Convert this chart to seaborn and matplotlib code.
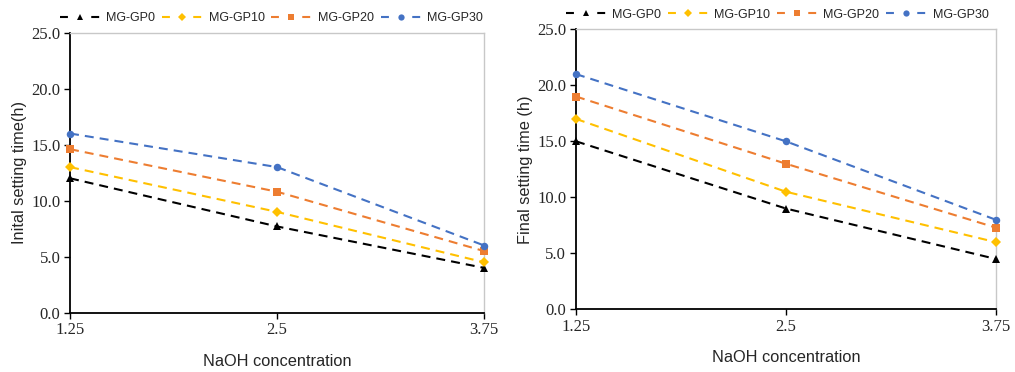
import matplotlib
matplotlib.use("Agg")
import matplotlib.pyplot as plt
import seaborn as sns
import pandas as pd
from matplotlib.ticker import FormatStrFormatter

sns.set_style("white")

concentration = [1.25, 2.5, 3.75]
series_names = ["MG-GP0", "MG-GP10", "MG-GP20", "MG-GP30"]
initial_gp0 = [12.0, 7.7, 4.0]
initial_gp10 = [13.0, 9.0, 4.5]
initial_gp20 = [14.6, 10.8, 5.5]
initial_gp30 = [16.0, 13.0, 6.0]
final_gp0 = [15.0, 9.0, 4.5]
final_gp10 = [17.0, 10.5, 6.0]
final_gp20 = [19.0, 13.0, 7.3]
final_gp30 = [21.0, 15.0, 8.0]
x_tick_labels = ["1.25", "2.5", "3.75"]

colors = {"MG-GP0": "#000000", "MG-GP10": "#FFC000", "MG-GP20": "#ED7D31", "MG-GP30": "#4472C4"}
markers = {"MG-GP0": "^", "MG-GP10": "D", "MG-GP20": "s", "MG-GP30": "o"}
msizes = {"MG-GP0": 6.2, "MG-GP10": 5.0, "MG-GP20": 5.4, "MG-GP30": 5.4}


def make_df(vals):
    rows = []
    for name, v in zip(series_names, vals):
        for c, y in zip(concentration, v):
            rows.append({"conc": c, "time": y, "mix": name})
    return pd.DataFrame(rows)


df_init = make_df([initial_gp0, initial_gp10, initial_gp20, initial_gp30])
df_final = make_df([final_gp0, final_gp10, final_gp20, final_gp30])

fig = plt.figure(figsize=(10.15, 3.72), dpi=100)
ax1 = fig.add_axes([0.069, 0.1594, 0.408, 0.7527])
ax2 = fig.add_axes([0.5675, 0.1685, 0.4135, 0.7527])

serif = "Liberation Serif"
sans = "Liberation Sans"


def draw(ax, df, ylabel):
    for name in series_names:
        sub = df[df["mix"] == name]
        sns.lineplot(data=sub, x="conc", y="time", ax=ax, color=colors[name],
                     linestyle=(0, (4.3, 2.9)), linewidth=1.5, marker=markers[name],
                     markersize=msizes[name], markeredgewidth=0, label=name,
                     clip_on=False, zorder=3)
    ax.set_xlim(1.25, 3.75)
    ax.set_ylim(0, 25)
    ax.set_xticks(concentration)
    ax.set_xticklabels(x_tick_labels, fontfamily=serif, fontsize=12)
    ax.set_yticks([0, 5, 10, 15, 20, 25])
    ax.yaxis.set_major_formatter(FormatStrFormatter("%.1f"))
    for lab in ax.get_yticklabels():
        lab.set_fontfamily(serif)
        lab.set_fontsize(12)
    ax.tick_params(axis="both", direction="out", length=4, width=1, color="black",
                   left=True, bottom=True, pad=3)
    ax.set_xlabel("NaOH concentration", fontfamily=sans, fontsize=11.8, labelpad=11)
    ax.set_ylabel(ylabel, fontfamily=sans, fontsize=11.8, labelpad=3)
    for s in ["left", "bottom"]:
        ax.spines[s].set_color("black")
        ax.spines[s].set_linewidth(1.3)
    for s in ["top", "right"]:
        ax.spines[s].set_color("#C8C8C8")
        ax.spines[s].set_linewidth(1.0)
    ax.grid(False)
    leg = ax.legend(loc="lower left", bbox_to_anchor=(-0.045, 1.0), ncol=4, frameon=False,
                    prop={"family": sans, "size": 9}, handlelength=3.2, handletextpad=0.5,
                    columnspacing=0.55, borderaxespad=0.3)
    for h in leg.legend_handles:
        h.set_markersize(4.5)
        h.set_linestyle((0, (3.8, 11.2)))


draw(ax1, df_init, "Inital setting time(h)")
draw(ax2, df_final, "Final setting time (h)")

fig.savefig("out.png", dpi=100)
